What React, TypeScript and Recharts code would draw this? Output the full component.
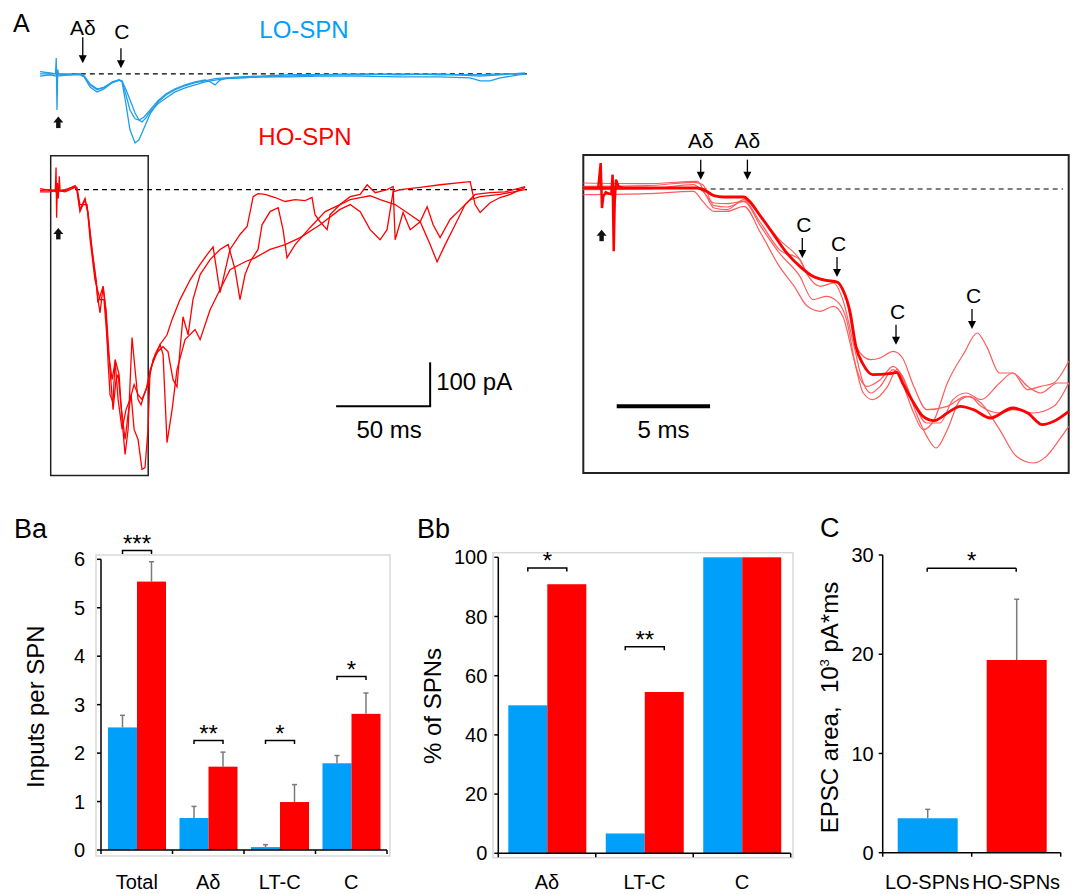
import React from "react";
import {
  LineChart, Line, XAxis, YAxis, ReferenceLine, ReferenceDot, ReferenceArea,
  BarChart, Bar, Cell,
} from "recharts";

const FONT = "'Liberation Sans', Arial, Helvetica, sans-serif";
const BLUE = "#00a0fa";
const BLUE_TRACE = "#1f9fe9";
const RED = "#ff0000";
const RED_THIN = "#ff5c5c";

// ---------------- Panel A: traces (time in ms, current in pA) ----------------
const loTrace1: [number, number][] = [[1,0],[6.4,0],[9.6,0],[17,-2],[22.3,0],[24.5,-5],[27.7,-25],[31.4,-36],[35.1,-30],[39.4,-20],[43.1,-14],[44.7,-18],[46.8,-70],[48.9,-127],[51.6,-157],[53.7,-150],[56.4,-123],[59.6,-91],[63.8,-64],[68.1,-48],[72.9,-36],[78.2,-27],[83.5,-20],[88.8,-16],[94.1,-11],[99.5,-9],[107.4,-7],[118.1,-5],[134,-2],[150,-2],[171.3,-2],[192.6,0],[213.8,-2],[235.1,-2],[245.7,0],[259,0]];
const loTrace2: [number, number][] = [[1.1,5],[6.4,2],[9.6,0],[17,0],[22.3,0],[24.5,-5],[27.7,-23],[31.4,-34],[35.1,-32],[39.4,-18],[43.1,-14],[44.7,-16],[46.8,-48],[48.9,-82],[51.6,-102],[53.7,-105],[56.4,-98],[59.6,-82],[63.8,-61],[68.1,-45],[72.9,-34],[78.2,-25],[83.5,-18],[88.8,-14],[91.5,-18],[94.1,-25],[96.8,-14],[99.5,-11],[107.4,-9],[118.1,-7],[134,-5],[150,-2],[171.3,0],[192.6,-2],[213.8,0],[235.1,-5],[245.7,-2],[259,2]];
const loTrace3: [number, number][] = [[1.1,-5],[6.4,-2],[9.6,-5],[17,-2],[22.3,-2],[24.5,-7],[27.7,-30],[31.4,-41],[35.1,-34],[39.4,-20],[43.1,-14],[44.7,-16],[46.8,-36],[48.9,-59],[51.6,-89],[53.7,-105],[55.3,-109],[57.4,-100],[59.6,-86],[63.8,-68],[68.1,-55],[72.9,-41],[78.2,-32],[83.5,-25],[88.8,-18],[94.1,-14],[99.5,-11],[107.4,-9],[118.1,-7],[134,-7],[150,-5],[171.3,-5],[192.6,-7],[213.8,-7],[229.8,-9],[235.1,-16],[240.4,-16],[245.7,-9],[259,0]];
const loArtifact: [number, number][] = [[9.3,0],[9.7,36],[10.1,-82],[10.5,10],[10.9,0]];

const hoTrace1: [number, number][] = [[1.1,-2],[6.4,0],[9.6,-5],[14.4,0],[19.7,7],[20.7,5],[22.3,-34],[26.1,-34],[27.7,-114],[30.3,-205],[33,-250],[35.1,-250],[37.2,-364],[39.4,-432],[41,-391],[42.6,-477],[44.7,-545],[46.8,-500],[48.9,-477],[51.1,-443],[53.2,-466],[55.3,-477],[57.4,-455],[59.6,-414],[62.2,-375],[64.9,-352],[68.6,-330],[71.3,-295],[75.5,-250],[80.9,-205],[86.2,-170],[89.9,-148],[93.1,-130],[96.8,-234],[102.1,-136],[107.4,-102],[111.2,-84],[114.4,-16],[117,-9],[120.7,-11],[126.1,-18],[131.4,-27],[136.7,-23],[142,-25],[145.7,-18],[147.3,-57],[150,-73],[153.7,-91],[155.3,-57],[160.6,-34],[166,-16],[171.3,-11],[175,11],[179.3,-7],[185.6,0],[188.8,7],[189.9,-114],[194.1,-52],[197.9,-91],[203.2,-73],[206.9,-39],[210.1,-80],[213.8,-109],[219.1,-68],[224.5,-45],[229.8,-23],[235.1,-16],[245.7,-11],[259,0]];
const hoTrace2: [number, number][] = [[1.1,2],[6.4,-2],[9.6,0],[14.4,-2],[19.7,9],[20.7,0],[22.3,-50],[25,-23],[26.6,-52],[28.7,-136],[30.9,-205],[31.9,-250],[33,-280],[34.6,-220],[36.2,-273],[38.3,-409],[39.9,-500],[41.5,-432],[42.6,-420],[44.1,-489],[46.3,-568],[47.9,-511],[49.5,-466],[51.1,-545],[53.2,-568],[55.3,-636],[56.9,-632],[58.5,-545],[59.6,-409],[62.2,-382],[64.9,-352],[66.5,-375],[68.6,-575],[71.3,-500],[73.9,-409],[78.2,-341],[83.5,-318],[86.2,-341],[91.5,-273],[96.8,-227],[102.1,-182],[110.1,-164],[115.4,-155],[123.4,-136],[131.4,-125],[139.4,-109],[150,-80],[160.6,-45],[166,-34],[171.3,-50],[176.6,-91],[181.9,-114],[185.6,-91],[188.8,-5],[192.6,0],[203.2,5],[213.8,11],[224.5,16],[229.8,18],[232.4,-34],[235.1,-52],[240.4,-30],[245.7,-18],[251.1,-11],[259,5]];
const hoTrace3: [number, number][] = [[1.1,-5],[6.4,-5],[9.6,-2],[14.4,-5],[19.7,5],[20.7,0],[22.3,-45],[25,-20],[26.6,-57],[28.7,-136],[30.9,-211],[31.9,-257],[34.6,-220],[36.2,-284],[37.2,-386],[38.3,-466],[39.9,-484],[41,-386],[43.1,-420],[44.7,-523],[46.3,-602],[47.9,-545],[50,-336],[51.6,-409],[53.2,-477],[54.8,-489],[56.4,-466],[58.5,-443],[61.2,-386],[63.8,-368],[66.5,-357],[69.1,-368],[71.8,-432],[73.9,-448],[75.5,-364],[77.1,-289],[79.8,-330],[82.4,-250],[86.2,-193],[91.5,-159],[96.8,-136],[101.1,-125],[104.8,-182],[107.4,-250],[110.1,-193],[112.8,-164],[117,-136],[119.1,-80],[123.4,-50],[127.7,-41],[130.3,-91],[132.4,-155],[136.7,-125],[144.7,-86],[152.7,-50],[160.6,-34],[166,-23],[171.3,-18],[176.6,-14],[181.9,-23],[189.9,-34],[197.9,-57],[203.2,-73],[208.5,-125],[212.2,-164],[216.5,-125],[221.8,-80],[227.1,-34],[232.4,-11],[240.4,-7],[248.4,-5],[259,7]];
const hoArtifact: [number, number][] = [[9.2,0],[9.6,50],[9.9,-64],[10.3,15],[10.8,-20],[11.3,30],[11.7,0]];

// inset (expanded time base)
const insetMean: [number, number][] = [[0,1.5],[1.6,1.5],[3.4,1.5],[6.1,1.5],[6.6,-3.5],[7,-10],[7.5,-12],[8.6,-12],[8.9,-18.5],[9.5,-41],[10.2,-68.5],[10.9,-96],[11.6,-116],[12.3,-131],[13,-137],[13.6,-139.5],[13.9,-151],[14.3,-186],[14.6,-236],[15,-263.5],[15.5,-278.5],[16.4,-277],[16.8,-275],[17.1,-291],[17.7,-321],[18.2,-341],[18.8,-347.5],[19.5,-336],[20.2,-326],[20.9,-331],[21.8,-343.5],[23,-328.5],[23.8,-336],[24.6,-353.5],[25.2,-348.5],[26,-333.5]];
const insetT1: [number, number][] = [[0,4],[3.4,5],[5.9,10],[6.4,6.5],[7,-25],[7.7,-27],[8.6,-18.5],[9.5,-51],[10.5,-91],[11.6,-106],[12,-128.5],[12.7,-146],[13.4,-141],[13.9,-166],[14.5,-236],[15,-291],[15.4,-306],[15.9,-296],[16.6,-271],[17,-286],[17.7,-336],[18.2,-361],[18.8,-346],[19.5,-291],[20.4,-246],[21.1,-216],[21.6,-236],[22.3,-276],[23,-276],[23.8,-301],[24.5,-296],[25.2,-291],[26,-258.5]];
const insetT2: [number, number][] = [[0,9],[3.4,8],[6.1,11.5],[6.6,-11],[7,-28.5],[7.7,-31],[8.6,-16],[9.5,-41],[10.5,-76],[11.6,-106],[12,-126],[12.7,-136],[13.6,-141],[14.1,-166],[14.6,-236],[15.4,-256],[15.9,-253.5],[16.6,-243.5],[17.1,-253.5],[17.7,-296],[18.4,-331],[19.5,-326],[20.5,-311],[21.3,-321],[22.3,-361],[23.2,-401],[24.1,-411],[24.8,-401],[25.5,-376],[26,-356]];
const insetT3: [number, number][] = [[0,-8.5],[3.4,-7],[5.9,-3.5],[6.4,-18.5],[7,-33.5],[7.7,-33.5],[8.6,-26],[9.5,-66],[10.5,-116],[11.3,-146],[12,-176],[12.7,-183.5],[13.4,-176],[13.9,-191],[14.5,-256],[15,-306],[15.5,-316],[16.3,-296],[16.8,-271],[17.3,-296],[17.9,-341],[18.4,-371],[18.9,-388.5],[19.5,-361],[20.2,-316],[20.7,-311],[21.3,-326],[22.3,-336],[23,-331],[24.1,-336],[25.2,-326],[26,-291]];
const insetT4: [number, number][] = [[0,-1],[3.4,0],[5.9,6.5],[6.4,-3.5],[7,-21],[7.7,-22],[8.6,-18.5],[9.5,-56],[10.5,-96],[11.6,-131],[12.3,-166],[13,-161],[13.6,-168.5],[14.1,-196],[14.6,-266],[15.2,-296],[15.9,-286],[16.6,-266],[17.1,-281],[17.7,-321],[18.4,-351],[19.1,-351],[19.8,-316],[20.5,-306],[21.3,-316],[22.3,-291],[23,-276],[23.8,-296],[24.5,-306],[25.4,-291],[26,-291]];
const insetArtifact: [number, number][] = [[0.8,1.5],[0.93,39],[1.0,-28.5],[1.07,-11],[1.2,-5],[1.5,-8],[1.57,21.5],[1.63,-93.5],[1.68,-21],[1.75,14],[1.88,4],[2.14,1.5]];

// annotation markers (data coordinates: ms, pA)
const mainArrowT = [23.8, 44.1];
const mainArrowV = [24, 13];
const mainArrowLabel = ["Aδ", "C"];
const insetArrowT = [6.29, 8.79, 11.73, 13.59, 16.75, 20.82];
const insetArrowV = [14, 14, -103.5, -132, -233.5, -210];
const insetArrowLabel = ["Aδ", "Aδ", "C", "C", "C", "C"];

// ---------------- Panel B / C bar data ----------------
const baCats = ["Total", "Aδ", "LT-C", "C"];
const baLo = [2.53, 0.66, 0.06, 1.79];
const baLoErr = [0.25, 0.24, 0.05, 0.16];
const baHi = [5.54, 1.72, 0.99, 2.81];
const baHiErr = [0.41, 0.3, 0.36, 0.43];
const baBracket = [6.18, 2.26, 2.26, 3.58];
const baStars = ["***", "**", "*", "*"];
const baTicks = [0, 1, 2, 3, 4, 5, 6];

const bbCats = ["Aδ", "LT-C", "C"];
const bbLo = [50, 6.7, 100];
const bbHi = [90.9, 54.5, 100];
const bbBracket: (number | null)[] = [96.4, 69.8, null];
const bbStars = ["*", "**", ""];
const bbTicks = [0, 20, 40, 60, 80, 100];

const cCats = ["LO-SPNs", "HO-SPNs"];
const cVals = [3.47, 19.42];
const cErr = [0.9, 6.12];
const cColors = [BLUE, RED];
const cBracket = 28.66;
const cTicks = [0, 10, 20, 30];

const pts = (a: [number, number][]) => a.map(([t, v]) => ({ t, v }));

const AXIS = { stroke: "#000", strokeWidth: 1.5 };
const TICK = { fontSize: 20, fill: "#000", fontFamily: FONT };

// ---------- shapes ----------
const arrowShape = (label: string, len: number, gap: number, dx: number) => (p: any) => {
  const { cx, cy } = p;
  return (
    <g>
      <line x1={cx} x2={cx} y1={cy - len} y2={cy - 6} stroke="#000" strokeWidth={1.3} />
      <path d={`M${cx - 4},${cy - 8}L${cx + 4},${cy - 8}L${cx},${cy}Z`} fill="#000" />
      <text x={cx + dx} y={cy - gap} textAnchor="middle" fontSize={21} fontFamily={FONT} fill="#000">{label}</text>
    </g>
  );
};

const upArrowShape = (p: any) => {
  const { cx, cy } = p;
  return (
    <g>
      <path d={`M${cx - 5},${cy + 6}L${cx},${cy}L${cx + 5},${cy + 6}Z`} fill="#111" />
      <rect x={cx - 2.2} y={cy + 5.5} width={4.4} height={6} fill="#111" />
    </g>
  );
};

const textShape = (txt: string, dx: number, dy: number, anchor: string) => (p: any) => (
  <text x={p.cx + dx} y={p.cy + dy} textAnchor={anchor as any} fontSize={24} fontFamily={FONT} fill="#000">{txt}</text>
);

const barShape = (valKey: string, errKey: string | null, brKey: string | null, starKey: string | null) => (p: any) => {
  const { x, y, width, height, fill, payload } = p;
  const val = payload[valKey];
  const ppu = val ? height / val : 0;
  const base = y + height;
  const cx = x + width / 2;
  const parts: any[] = [<rect key="r" x={x} y={y} width={width} height={height} fill={fill} />];
  if (errKey && payload[errKey] && ppu) {
    const ey = base - (val + payload[errKey]) * ppu;
    parts.push(<line key="e" x1={cx} x2={cx} y1={y} y2={ey} stroke="#7a7a7a" strokeWidth={1.5} />);
    parts.push(<line key="ec" x1={cx - 2.5} x2={cx + 2.5} y1={ey} y2={ey} stroke="#7a7a7a" strokeWidth={1.5} />);
  }
  if (brKey && payload[brKey] != null && ppu) {
    const by = base - payload[brKey] * ppu;
    const l = x - width / 2;
    const r = x + width / 2;
    parts.push(<path key="b" d={`M${l},${by + 3.5}V${by}H${r}V${by + 3.5}`} fill="none" stroke="#000" strokeWidth={1.5} />);
    parts.push(<text key="s" x={x} y={by + 1} textAnchor="middle" fontSize={24} fontFamily={FONT} fill="#000">{payload[starKey as string]}</text>);
  }
  return <g>{parts}</g>;
};

const catTick = (fallbackBand: number, labelDy: number) => (p: any) => {
  const { x, y, payload, index, visibleTicksCount, width } = p;
  const n = visibleTicksCount || 1;
  const band = width && visibleTicksCount ? width / visibleTicksCount : fallbackBand;
  return (
    <g>
      <line x1={x - band / 2} x2={x - band / 2} y1={y} y2={y + 4} stroke="#000" strokeWidth={1.5} />
      {index === n - 1 ? <line x1={x + band / 2} x2={x + band / 2} y1={y} y2={y + 4} stroke="#000" strokeWidth={1.5} /> : null}
      <text x={x} y={y + labelDy} textAnchor="middle" fontSize={20} fontFamily={FONT} fill="#000">{payload.value}</text>
    </g>
  );
};

const starLabel = (p: any) => {
  const vb = p.viewBox || {};
  return (
    <text x={vb.x + (vb.width || 0) / 2} y={vb.y + 1} textAnchor="middle" fontSize={24} fontFamily={FONT} fill="#000">*</text>
  );
};

const abs = (left: number, top: number): React.CSSProperties => ({ position: "absolute", left, top });

export default function App() {
  const baRows = baCats.map((c, i) => ({ cat: c, lo: baLo[i], hi: baHi[i], loErr: baLoErr[i], hiErr: baHiErr[i], br: baBracket[i], star: baStars[i] }));
  const bbRows = bbCats.map((c, i) => ({ cat: c, lo: bbLo[i], hi: bbHi[i], br: bbBracket[i], star: bbStars[i] }));
  const cRows = cCats.map((c, i) => ({ cat: c, v: cVals[i], e: cErr[i] }));

  const loTraces = [loTrace1, loTrace2, loTrace3, loArtifact];
  const hoTraces = [hoTrace1, hoTrace2, hoTrace3, hoArtifact];
  const insetThin = [insetT1, insetT2, insetT3, insetT4];

  return (
    <div style={{ position: "absolute", left: 0, top: 0, width: 1084, height: 894, background: "#fff", fontFamily: FONT }}>
      <svg width={1084} height={894} style={{ position: "absolute", left: 0, top: 0 }} fontFamily={FONT}>
        <text x={13} y={31.5} fontSize={25} fill="#000">A</text>
        <text x={304} y={37.5} fontSize={24} fill={BLUE} textAnchor="middle">LO-SPN</text>
        <text x={305} y={145} fontSize={24} fill={RED} textAnchor="middle">HO-SPN</text>
        <text x={14} y={537.5} fontSize={27} fill="#000">Ba</text>
        <text x={417} y={537.5} fontSize={27} fill="#000">Bb</text>
        <text x={820} y={536.5} fontSize={27} fill="#000">C</text>
        <rect x={96} y={555} width={294} height={301} fill="none" stroke="#d9d9d9" strokeWidth={1.5} />
        <rect x={493} y={552.7} width={300} height={305} fill="none" stroke="#d9d9d9" strokeWidth={1.5} />
        <text transform="translate(43.5,706.7) rotate(-90)" textAnchor="middle" fontSize={24} fill="#000">Inputs per SPN</text>
        <text transform="translate(440.5,706) rotate(-90)" textAnchor="middle" fontSize={24} fill="#000">% of SPNs</text>
        <text transform="translate(838,707.5) rotate(-90)" textAnchor="middle" fontSize={24} fill="#000">
          {"EPSC area,\u00a0 10"}<tspan dy={-9} fontSize={13}>3</tspan><tspan dy={9} fontSize={24}>{" pA*ms"}</tspan>
        </text>
      </svg>

      {/* LO-SPN traces */}
      <div style={abs(0, 0)}>
        <LineChart width={560} height={150} margin={{ top: 40, right: 33, bottom: 0, left: 38 }}>
          <XAxis type="number" dataKey="t" domain={[0, 260]} hide />
          <YAxis type="number" domain={[-173, 77]} hide />
          <ReferenceLine segment={[{ x: 18, y: 0 }, { x: 260, y: 0 }]} stroke="#000" strokeWidth={1.2} strokeDasharray="5 4" ifOverflow="visible" />
          {loTraces.map((tr, i) => (
            <Line key={i} data={pts(tr)} dataKey="v" type="linear" stroke={BLUE_TRACE} strokeWidth={1.3} dot={false} isAnimationActive={false} />
          ))}
          {mainArrowT.map((t, i) => (
            <ReferenceDot key={i} x={t} y={mainArrowV[i]} ifOverflow="visible"
              shape={arrowShape(mainArrowLabel[i], mainArrowLabel[i] === "C" ? 20 : 26, mainArrowLabel[i] === "C" ? 29 : 28, mainArrowLabel[i] === "C" ? 1 : 0)} />
          ))}
          <ReferenceDot x={10.8} y={-97} ifOverflow="visible" shape={upArrowShape} />
        </LineChart>
      </div>

      {/* HO-SPN traces */}
      <div style={abs(0, 150)}>
        <LineChart width={560} height={340} margin={{ top: 0, right: 33, bottom: 10, left: 38 }}>
          <XAxis type="number" dataKey="t" domain={[0, 260]} hide />
          <YAxis type="number" domain={[-660, 90]} hide />
          <ReferenceLine segment={[{ x: 19.7, y: 0 }, { x: 260, y: 0 }]} stroke="#000" strokeWidth={1.2} strokeDasharray="5 4" ifOverflow="visible" />
          {hoTraces.map((tr, i) => (
            <Line key={i} data={pts(tr)} dataKey="v" type="linear" stroke={RED} strokeWidth={1.3} dot={false} isAnimationActive={false} />
          ))}
          <ReferenceArea x1={6.75} x2={58.6} y1={-650} y2={77} fill="none" fillOpacity={0} stroke="#222" strokeWidth={1.5} ifOverflow="visible" />
          <ReferenceDot x={10.8} y={-87} ifOverflow="visible" shape={upArrowShape} />
          <ReferenceLine segment={[{ x: 208.5, y: -492.5 }, { x: 208.5, y: -392.5 }]} stroke="#000" strokeWidth={2} ifOverflow="visible" />
          <ReferenceLine segment={[{ x: 158.5, y: -492.5 }, { x: 209, y: -492.5 }]} stroke="#000" strokeWidth={2} ifOverflow="visible" />
          <ReferenceDot x={208.5} y={-442.5} ifOverflow="visible" shape={textShape("100 pA", 6, 6, "start")} />
          <ReferenceDot x={183.5} y={-492.5} ifOverflow="visible" shape={textShape("50 ms", 6, 32, "middle")} />
        </LineChart>
      </div>

      {/* Inset */}
      <div style={abs(580, 120)}>
        <LineChart width={500} height={360} margin={{ top: 35, right: 11.3, bottom: 7, left: 3.3 }}>
          <XAxis type="number" dataKey="t" domain={[0, 26]} hide />
          <YAxis type="number" domain={[-426, 51]} hide />
          <ReferenceArea x1={0} x2={26} y1={-426} y2={51} fill="none" fillOpacity={0} stroke="#222" strokeWidth={2} ifOverflow="visible" />
          <ReferenceLine segment={[{ x: 6.34, y: 0 }, { x: 25.7, y: 0 }]} stroke="#000" strokeWidth={1.2} strokeDasharray="5 4" ifOverflow="visible" />
          {insetThin.map((tr, i) => (
            <Line key={i} data={pts(tr)} dataKey="v" type="monotone" stroke={RED_THIN} strokeWidth={1.2} dot={false} isAnimationActive={false} />
          ))}
          <Line data={pts(insetMean)} dataKey="v" type="monotone" stroke={RED} strokeWidth={2.8} dot={false} isAnimationActive={false} />
          <Line data={pts(insetArtifact)} dataKey="v" type="linear" stroke={RED} strokeWidth={2.5} dot={false} isAnimationActive={false} />
          {insetArrowT.map((t, i) => (
            <ReferenceDot key={i} x={t} y={insetArrowV[i]} ifOverflow="visible"
              shape={arrowShape(insetArrowLabel[i], 20, insetArrowLabel[i] === "C" ? 26 : 32, insetArrowLabel[i] === "C" ? 1.5 : 0)} />
          ))}
          <ReferenceDot x={0.98} y={-61} ifOverflow="visible" shape={upArrowShape} />
          <ReferenceLine segment={[{ x: 1.79, y: -326 }, { x: 6.79, y: -326 }]} stroke="#000" strokeWidth={4} ifOverflow="visible" />
          <ReferenceDot x={4.29} y={-326} ifOverflow="visible" shape={textShape("5 ms", 0, 32, "middle")} />
        </LineChart>
      </div>

      {/* Ba */}
      <div style={abs(0, 500)}>
        <BarChart width={400} height={394} data={baRows} margin={{ top: 59.3, right: 13, bottom: 14, left: 41 }} barGap={0} barSize={29}>
          <XAxis dataKey="cat" tickLine={false} tickSize={0} tickMargin={0} axisLine={AXIS} tick={catTick(71.5, 39)} height={30} interval={0} />
          <YAxis domain={[0, 6]} ticks={baTicks} width={60} tickSize={4} tickMargin={12} axisLine={AXIS} tickLine={AXIS} tick={TICK} interval={0} />
          <Bar dataKey="lo" fill={BLUE} isAnimationActive={false} shape={barShape("lo", "loErr", null, null)} />
          <Bar dataKey="hi" fill={RED} isAnimationActive={false} shape={barShape("hi", "hiErr", "br", "star")} />
        </BarChart>
      </div>

      {/* Bb */}
      <div style={abs(400, 500)}>
        <BarChart width={400} height={394} data={bbRows} margin={{ top: 57.3, right: 9.3, bottom: 10.7, left: 38.3 }} barGap={0} barSize={39}>
          <XAxis dataKey="cat" tickLine={false} tickSize={0} tickMargin={0} axisLine={AXIS} tick={catTick(97.5, 35.5)} height={30} interval={0} />
          <YAxis domain={[0, 100]} ticks={bbTicks} width={60} tickSize={4} tickMargin={7} axisLine={AXIS} tickLine={AXIS} tick={TICK} interval={0} />
          <Bar dataKey="lo" fill={BLUE} isAnimationActive={false} shape={barShape("lo", null, null, null)} />
          <Bar dataKey="hi" fill={RED} isAnimationActive={false} shape={barShape("hi", null, "br", "star")} />
        </BarChart>
      </div>

      {/* C */}
      <div style={abs(800, 500)}>
        <BarChart width={284} height={394} data={cRows} margin={{ top: 55, right: 23.3, bottom: 11.3, left: 22.7 }} barSize={60}>
          <XAxis dataKey="cat" tickLine={false} tickSize={0} tickMargin={0} axisLine={AXIS} tick={catTick(89, 36)} height={30} interval={0} />
          <YAxis domain={[0, 30]} ticks={cTicks} width={60} tickSize={4} tickMargin={5} axisLine={AXIS} tickLine={AXIS} tick={TICK} interval={0} />
          <Bar dataKey="v" isAnimationActive={false} shape={barShape("v", "e", null, null)}>
            {cRows.map((r, i) => <Cell key={i} fill={cColors[i]} />)}
          </Bar>
          <ReferenceLine segment={[{ x: "LO-SPNs", y: cBracket }, { x: "HO-SPNs", y: cBracket }]} stroke="#000" strokeWidth={1.5} ifOverflow="visible" label={starLabel} />
          <ReferenceLine segment={[{ x: "LO-SPNs", y: cBracket }, { x: "LO-SPNs", y: cBracket - 0.35 }]} stroke="#000" strokeWidth={1.5} ifOverflow="visible" />
          <ReferenceLine segment={[{ x: "HO-SPNs", y: cBracket }, { x: "HO-SPNs", y: cBracket - 0.35 }]} stroke="#000" strokeWidth={1.5} ifOverflow="visible" />
        </BarChart>
      </div>
    </div>
  );
}
